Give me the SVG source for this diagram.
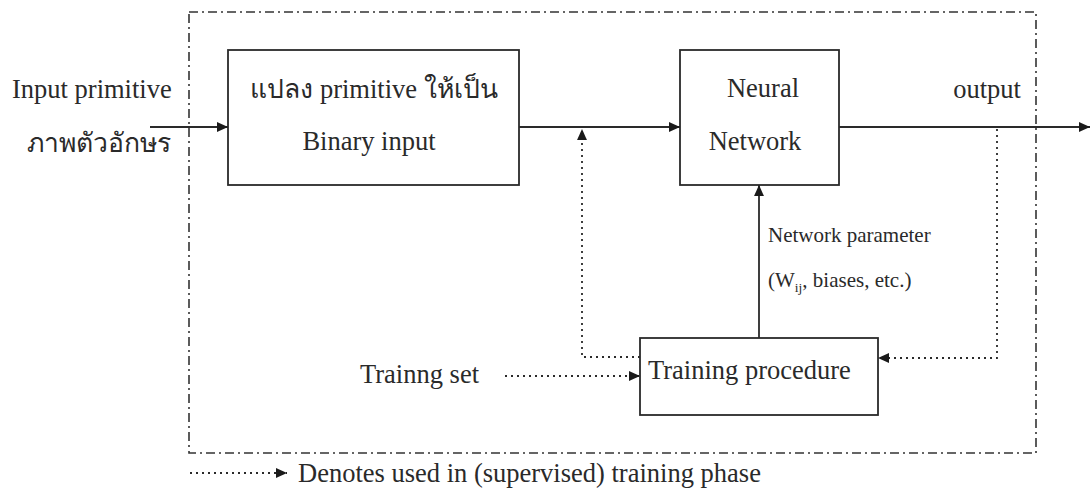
<svg xmlns="http://www.w3.org/2000/svg" width="1091" height="494" viewBox="0 0 1091 494">
<style>
.t{font-family:"Liberation Serif","DejaVu Serif","Noto Sans",serif;font-size:26.5px;fill:#2a2a2a}
.s{font-family:"Liberation Serif","DejaVu Serif",serif;font-size:21px;fill:#2a2a2a}
.box{fill:none;stroke:#2a2a2a;stroke-width:1.8}
.solid{fill:none;stroke:#2a2a2a;stroke-width:1.8}
.dot{fill:none;stroke:#2a2a2a;stroke-width:1.8;stroke-dasharray:2 4}
.frame{fill:none;stroke:#333;stroke-width:1.6;stroke-dasharray:9 4 2 4}
</style>
<defs>
<marker id="ah" viewBox="0 0 10 10" refX="10" refY="5" markerWidth="11" markerHeight="11" markerUnits="userSpaceOnUse" orient="auto">
<path d="M0,0.5 L10,5 L0,9.5 z" fill="#1a1a1a"/>
</marker>
</defs>
<rect width="1091" height="494" fill="#fff"/>
<rect id="frame" class="frame" x="189" y="12" width="847" height="441"/>
<g id="input-label">
<text class="t" x="12" y="98">Input primitive</text>
<text class="t" x="27" y="152">ภาพตัวอักษร</text>
</g>
<g id="binary-box">
<rect class="box" x="228" y="50" width="291" height="135"/>
<text class="t" x="374" y="98" text-anchor="middle">แปลง primitive ให้เป็น</text>
<text class="t" x="369" y="150" text-anchor="middle">Binary input</text>
</g>
<g id="neural-network">
<rect class="box" x="680" y="50" width="159" height="135"/>
<text class="t" x="763" y="97" text-anchor="middle">Neural</text>
<text class="t" x="755" y="150" text-anchor="middle">Network</text>
</g>
<g id="output-label">
<text class="t" x="987" y="98" text-anchor="middle">output</text>
</g>
<g id="training-procedure">
<rect class="box" x="640" y="338" width="238" height="77"/>
<text class="t" x="648" y="379">Training procedure</text>
</g>
<g id="training-set">
<text class="t" x="360" y="383">Trainng set</text>
</g>
<g id="param-label">
<text class="s" x="768" y="242">Network parameter</text>
<text class="s" x="768" y="287">(W<tspan font-size="13.5" dy="5">ij</tspan><tspan dy="-5">, biases, etc.)</tspan></text>
</g>
<g id="connectors">
<line class="solid" x1="150" y1="127" x2="228" y2="127" marker-end="url(#ah)"/>
<line class="solid" x1="519" y1="127" x2="680" y2="127" marker-end="url(#ah)"/>
<line class="solid" x1="839" y1="127" x2="1090" y2="127" marker-end="url(#ah)"/>
<line class="solid" x1="759" y1="338" x2="759" y2="185" marker-end="url(#ah)"/>
<path class="dot" d="M640,357 L582,357 L582,129" marker-end="url(#ah)"/>
<path class="dot" d="M997,129 L997,358 L878,358" marker-end="url(#ah)"/>
<line class="dot" x1="505" y1="376" x2="640" y2="376" marker-end="url(#ah)"/>
</g>
<g id="legend">
<line class="dot" x1="190" y1="473" x2="287" y2="473" marker-end="url(#ah)"/>
<text class="t" x="298" y="482" font-size="26">Denotes used in (supervised) training phase</text>
</g>
</svg>
